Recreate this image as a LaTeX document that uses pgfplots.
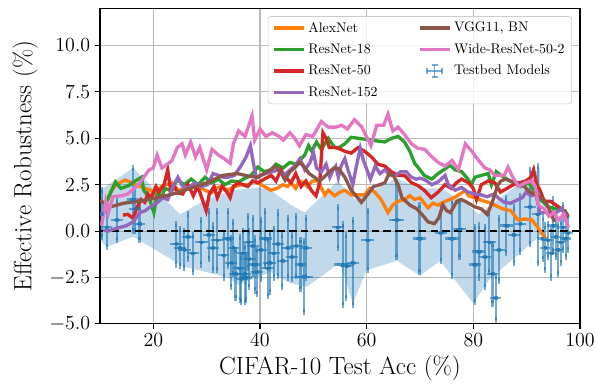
\documentclass[border=0pt]{standalone}
\usepackage{pgfplots}
\usepackage{pgfplotstable}
\pgfplotsset{compat=1.18}
\definecolor{tabblue}{HTML}{1F77B4}
\definecolor{taborange}{HTML}{FF7F0E}
\definecolor{tabgreen}{HTML}{2CA02C}
\definecolor{tabred}{HTML}{D62728}
\definecolor{tabpurple}{HTML}{9467BD}
\definecolor{tabbrown}{HTML}{8C564B}
\definecolor{tabpink}{HTML}{E377C2}

\pgfplotstableread{
x y ex ey
10.3 0.95 0.3 1.25
11.3 0.2 0.4 1.05
13.2 0.6 0.5 1.1
16.2 1.7 0.6 1.7
16.6 1.2 0.5 1.2
17.4 0.4 0.5 0.9
24.3 -0.7 0.6 1.1
25.0 -0.9 0.5 1.0
25.8 -1.0 0.6 1.0
26.5 -0.3 0.5 1.2
27.4 -1.2 0.6 1.0
29.0 -0.6 0.6 1.2
30.4 -0.2 0.5 1.3
31.2 -0.9 0.6 1.2
32.0 -0.5 0.6 1.6
33.2 -1.3 0.5 1.2
34.0 -0.4 0.6 1.5
34.6 -1.7 0.5 1.3
35.0 -0.9 0.5 1.4
35.4 -2.3 0.6 1.3
36.2 -2.0 0.6 1.7
36.5 -2.6 0.5 1.2
36.8 -1.2 0.5 1.2
37.2 -2.3 0.5 1.5
37.4 -2.5 0.6 1.2
37.8 -0.6 0.5 1.4
38.0 -1.5 0.6 1.5
38.7 -0.8 0.5 1.5
39.0 -1.8 0.6 1.4
39.4 -2.2 0.6 1.2
40.2 -1.0 0.5 1.6
41.0 -0.4 0.6 1.5
41.5 -2.0 0.5 1.5
41.8 -1.7 0.6 1.6
42.6 -1.2 0.5 1.3
43.4 -0.7 0.6 1.7
44.2 -1.6 0.5 1.4
45.2 -0.9 0.6 1.6
46.0 -1.4 0.6 1.2
46.8 -0.8 0.6 1.6
47.6 -1.8 0.5 1.3
48.2 -2.45 1.2 1.9
48.6 -0.9 0.6 1.6
54.6 0.2 0.6 1.1
55.5 -1.8 1.0 2.2
56.2 -1.9 0.6 1.7
57.4 -1.7 0.6 2.3
60.2 -0.5 0.6 1.6
65.6 0.6 0.8 2.0
69.9 -0.4 0.7 1.8
73.9 -0.1 0.6 1.5
76.0 -0.4 0.7 2.0
77.4 0.1 0.6 1.5
80.3 -1.8 0.6 2.0
81.0 -1.1 0.6 1.4
82.2 -1.4 0.5 1.6
83.0 -0.6 0.6 1.6
83.6 -2.3 0.5 1.6
84.2 -3.6 0.5 1.2
84.8 -1.0 0.6 1.7
86.2 0.3 0.6 1.5
87.6 -0.2 0.5 1.5
88.8 0.4 0.5 1.5
90.6 1.3 0.5 2.0
92.1 0.9 0.5 2.6
93.0 -0.4 0.4 1.1
93.5 -0.9 0.4 1.2
94.0 -0.5 0.4 0.9
94.6 -1.2 0.4 1.3
95.0 0.3 0.4 1.4
95.5 -0.3 0.4 1.1
95.9 -1.0 0.4 1.3
96.4 -0.6 0.4 1.1
96.8 0.2 0.4 1.2
97.3 -0.4 0.4 1.0
97.8 -0.1 0.4 0.9
}\testbed

\begin{document}
\begin{tikzpicture}
\begin{axis}[
  name=ax,
  width=345.6pt, height=227.2pt, scale only axis,
  xmin=10, xmax=100, ymin=-5, ymax=12,
  xtick={20,40,60,80,100},
  ytick={-5,-2.5,0,2.5,5,7.5,10},
  y tick label style={/pgf/number format/.cd, fixed, fixed zerofill, precision=1, /tikz/.cd},
  tick label style={font=\fontsize{14.8}{17}\selectfont},
  label style={font=\fontsize{18}{21}\selectfont},
  xlabel={CIFAR-10 Test Acc (\%)},
  ylabel={Effective Robustness (\%)},
  xlabel style={at={(axis description cs:0.5,-0.139)}, anchor=center},
  ylabel style={at={(axis description cs:-0.156,0.5)}, anchor=center},
  grid=major,
  major grid style={line width=0.8pt, color=black!27},
  axis line style={line width=0.8pt},
  tick align=outside, major tick length=3.5pt,
  tick style={line width=0.8pt, black},
  xtick pos=left, ytick pos=left,
  legend image code/.code={\draw[#1, line width=2.4pt] (0pt,0pt) -- (21.6pt,0pt);},
  legend style={
    font=\fontsize{10}{12}\selectfont,
    at={(0.983,0.975)}, anchor=north east,
    draw=black!20, rounded corners=2pt,
    fill=white, fill opacity=0.8, text opacity=1,
    /tikz/column 2/.style={column sep=27pt},
    /tikz/row sep=3pt,
  },
  legend columns=2,
  legend cell align=left,
]
% band
\addplot[forget plot, draw=none, fill=tabblue, fill opacity=0.28] coordinates {
(10,2.2) (16.2,3.4) (25,0.9) (30,1.7) (35,2.2) (39.6,2.35) (42,2.2) (45.8,1.4) (48.4,1.0)
(54.6,2.7) (57.8,1.7) (65.7,2.85) (69.6,2.3) (74,2.3) (79,1.4) (81,0.9) (92.5,3.4)
(92.7,-0.2) (83,-2.6) (80,-3.9) (76.2,-2.5) (73.8,-1.6) (70,-2.4) (65.7,-1.6) (60,-2.1)
(57.4,-3.9) (55,-1.7) (48.8,-3.0) (45.6,-2.8) (42,-2.2) (36,-2.9) (34,-2.5) (25.6,-1.9)
(16.2,-0.3) (11.3,-0.85) (10,-0.5)
} -- cycle;
% testbed
\addplot[forget plot, only marks, mark=square*, mark size=1pt, color=tabblue, opacity=0.62,
  error bars/.cd, x dir=both, x explicit, y dir=both, y explicit,
  error bar style={line width=1.5pt, color=tabblue, opacity=0.62},
  error mark options={mark size=2.2pt, line width=1.5pt, color=tabblue}]
  table[x=x, y=y, x error=ex, y error=ey] {\testbed};
% zero line
\addplot[forget plot, black, line width=1.8pt, dash pattern=on 5.5pt off 3pt] coordinates {(10,0) (100,0)};
% AlexNet
\addplot[forget plot, taborange, line width=2.4pt] coordinates {
(11,1.4) (12,2.1) (13,2.5) (14.7,2.75) (16,2.6) (17.5,2.4) (19.5,2.2) (20.4,2.0) (21.5,2.4) (22.4,2.5)
(23.5,2.6) (24.6,2.2) (26.5,2.3) (27.8,2.4) (29,2.3) (30.8,2.05) (31.8,2.3) (32.7,2.4) (34,2.2) (35.3,2.4)
(36.5,2.5) (37.8,2.5) (39,2.7) (39.6,2.6) (40.8,2.4) (42,2.2) (43.2,2.3) (44.3,2.5) (45.2,2.4) (45.8,2.6)
(46.7,2.3) (47.3,2.7) (48.3,2.6) (48.9,2.4) (49.8,2.7) (50.8,2.7) (52.2,1.95) (52.8,2.2) (54,1.9) (55,2.1)
(55.9,2.2) (57.1,1.95) (58.4,1.95) (59.6,1.95) (60.6,2.3) (61.5,2.1) (62.7,1.7) (64,1.0) (64.9,1.4) (65.8,1.6)
(67.1,1.7) (68.1,1.9) (69,1.7) (70,1.8) (70.8,1.5) (71.5,1.25) (72.4,1.5) (73.4,1.4) (74.7,1.6) (76,1.75)
(77,1.9) (78.5,2.2) (79.1,1.9) (80.3,1.8) (81.6,1.65) (82.8,1.55) (84,1.4) (85.5,1.2) (87,1.1) (88.4,0.6)
(89.7,0.65) (91,0.6) (92.2,0.15) (93.5,-0.4)
};
% ResNet-18
\addplot[forget plot, tabgreen, line width=2.4pt] coordinates {
(10.8,1.3) (12.9,2.65) (13.9,2.3) (15.4,2.45) (16.6,2.7) (17.8,2.9) (18.2,2.2) (19.2,1.8) (20.1,1.0) (20.8,2.1)
(21.5,1.8) (22.2,2.3) (23,2.2) (24.6,2.75) (25.8,2.5) (27.1,2.8) (28.4,2.5) (29.7,2.9) (30.9,2.6) (32.2,2.8)
(33.4,2.5) (34.7,2.7) (36,2.65) (37.2,2.85) (38.3,3.0) (39.6,3.45) (40.8,3.2) (42,3.3) (43,3.6) (44.3,3.4)
(45.6,3.7) (46.8,3.6) (48.4,4.1) (49.1,4.6) (49.7,4.3) (50.6,4.8) (51.5,4.4) (52.8,5.0) (54,4.5) (54.6,4.46)
(55.9,4.7) (57.1,5.05) (58.4,5.0) (60.9,4.9) (63.4,4.8) (64.7,5.0) (65.9,5.1) (67.1,4.8) (68.1,4.3) (69,3.65)
(70,3.3) (70.8,3.0) (72.2,2.8) (73.4,3.1) (74.7,3.35) (75.6,3.55) (76.6,3.3) (77.8,3.2) (79,2.8) (79.6,2.5)
(80.3,2.9) (81.5,3.0) (82.8,3.1) (83.4,2.5) (84.3,3.2) (85.2,3.0) (86.3,2.8) (87.5,2.6) (88.9,2.4) (90.4,2.6)
(92.2,1.8) (94,1.3) (95.5,1.2) (97.2,1.1) (97.8,0.75)
};
% ResNet-50
\addplot[forget plot, tabred, line width=2.4pt] coordinates {
(14.3,0.86) (15.2,0.9) (16.2,0.7) (17,1.3) (17.7,1.7) (18.4,1.55) (19,2.0) (19.6,1.8) (20.5,2.4) (21.1,2.1)
(22,2.5) (22.7,3.3) (23.3,2.1) (24,2.4) (24.6,2.05) (25.5,2.0) (26.5,2.5) (27.5,1.9) (28.1,2.3) (28.6,2.2)
(29.9,1.1) (30.5,2.0) (31.4,2.4) (32,1.8) (32.9,2.4) (33.8,2.1) (34.4,1.8) (35,2.4) (35.9,2.6) (36.8,2.5)
(37.7,2.4) (38.6,2.7) (39.6,2.6) (40.8,2.8) (42.1,3.0) (43,2.7) (43.9,3.3) (44.8,2.9) (45.8,2.6) (46.7,3.1)
(47.7,2.4) (48.6,2.7) (49.6,2.2) (50.5,1.9) (51.2,2.6) (51.8,5.3) (52.4,5.0) (53,4.5) (54.4,4.5) (55.9,4.3)
(57.1,4.2) (58.4,4.5) (59.6,4.3) (60.9,4.0) (62.1,3.6) (63.4,3.5) (64.6,3.2) (65.9,3.0) (67.1,3.0) (68.4,2.6)
(69.6,2.45) (70.8,2.2) (72.1,1.8) (73.4,2.1) (74.7,2.5) (75.9,2.3) (76.8,2.6) (77.8,2.8) (79.1,2.6) (80,2.3)
(80.6,1.7) (81.5,2.5) (82.8,2.7) (84,2.6) (85.1,2.1) (86.3,2.3) (87.5,2.5) (88.6,2.6) (89.9,2.7) (90.8,2.9)
(91.3,3.3) (91.9,2.5) (92.5,2.2) (93.3,1.6) (94.5,1.6) (95.5,1.4) (96.5,1.2) (97.2,1.0) (97.8,0.8)
};
% ResNet-152
\addplot[forget plot, tabpurple, line width=2.4pt] coordinates {
(10.6,0.05) (11.5,0.0) (12.5,0.1) (13.8,0.2) (15,0.3) (16.2,0.5) (17.5,1.0) (18.5,1.1) (19.4,1.3) (20.6,1.5)
(21.8,1.8) (22.7,1.7) (23.7,2.4) (24.6,2.9) (25.5,2.4) (26.5,2.3) (27.8,2.6) (29,2.4) (30.2,2.5) (31.2,3.1)
(32.2,3.0) (33.1,2.9) (34,2.9) (35.2,3.0) (36.4,3.5) (37.4,4.0) (38.2,4.6) (38.8,3.6) (39.3,2.85) (40,3.0)
(41.1,3.1) (42.3,3.2) (43.5,3.3) (44.4,3.0) (45.3,3.2) (46.5,3.5) (47.5,3.9) (48.4,3.3) (49.4,3.7) (50,4.25)
(50.6,3.4) (51.5,3.2) (52.4,3.6) (53.1,2.9) (53.7,3.3) (54.2,3.5) (54.7,2.9) (55.2,3.5) (55.9,3.9) (56.5,3.3)
(57.4,2.5) (58,3.4) (58.8,4.46) (59.4,3.8) (60.7,2.8) (61.6,3.5) (62.5,3.1) (63.4,3.3) (64.4,3.0) (65.4,3.0)
(66.4,3.2) (67.4,3.2) (68.4,2.9) (69.3,2.8) (70,2.85) (71,2.75) (72.2,2.5) (73.4,2.65) (74.7,3.0) (75.3,2.5)
(76.6,2.2) (77.8,2.35) (79,2.1) (80.3,2.0) (81.5,1.95) (82.6,1.85) (83.9,2.0) (84.6,1.8) (85.8,1.55) (87,1.5)
(88.4,1.7) (89.2,1.8) (89.9,2.1) (90.8,1.9) (91.7,2.0) (92.5,1.0) (93.5,1.0) (94.8,0.9) (95.6,1.0) (96.5,1.2)
(97.5,0.8)
};
% VGG11 BN
\addplot[forget plot, tabbrown, line width=2.4pt] coordinates {
(10,1.66) (11.9,1.3) (14.4,1.5) (17,1.6) (19,1.7) (20.7,1.8) (23.7,2.0) (26.9,2.3) (30,2.6) (33,3.0)
(35.7,3.1) (38,2.95) (39.6,2.9) (40.8,3.1) (42,3.3) (42.9,3.5) (43.8,3.2) (44.7,2.75) (45.6,3.2) (46.5,3.4)
(47.4,3.7) (48.2,3.5) (49.2,3.1) (50.2,2.9) (51.1,2.7) (52,2.9) (53,3.2) (53.9,3.4) (54.8,3.35) (55.9,2.9)
(57.1,2.2) (58,1.9) (59,1.55) (60,1.9) (61.3,2.4) (62.5,2.5) (63.4,2.6) (64.2,3.1) (65,3.0) (65.9,2.5)
(66.6,1.8) (68.1,1.4) (69.4,1.2) (70.5,0.85) (71.5,0.5) (72.7,0.4) (73.5,0.7) (74.3,1.4) (75,1.1) (75.7,1.0)
(76.9,1.6) (77.7,1.7) (78.5,1.6) (80.3,1.3) (81.5,1.2) (82.6,0.9) (83.5,1.5) (84.6,2.5) (85.2,2.7) (86,2.8)
(87,2.7) (88.4,2.6) (89.4,2.45) (90.6,2.1) (92.2,1.9) (93.5,1.6) (94.5,1.0) (95.2,0.5)
};
% Wide-ResNet-50-2
\addplot[forget plot, tabpink, line width=2.4pt] coordinates {
(10.3,0.3) (11.1,1.6) (11.6,1.0) (12.4,1.85) (14,1.9) (15.2,2.0) (16.4,2.3) (17.2,2.47) (18.2,2.9) (19.2,3.3)
(20,3.4) (20.7,4.1) (21.6,3.4) (22.6,3.6) (23.5,3.8) (24.5,4.5) (25.4,4.7) (26,4.1) (27,4.8) (27.9,4.0)
(28.7,4.5) (30,3.3) (31,4.4) (32.2,4.1) (33.3,3.9) (34.4,3.65) (35,4.7) (36,5.4) (37.2,5.1) (38.5,6.2)
(39,4.9) (40,5.5) (41.1,5.1) (42.3,5.3) (43.6,5.1) (44.4,4.9) (45.6,5.3) (46.5,5.0) (47.4,4.6) (48.6,5.2)
(49.9,5.1) (51.5,5.9) (52.8,5.6) (54.2,5.6) (55.3,5.7) (56.4,5.5) (57.7,6.0) (59.1,5.6) (60.8,4.6) (61.9,5.7)
(63.2,5.7) (64,6.3) (64.9,5.4) (65.9,5.6) (67.1,5.2) (68.4,4.7) (69.6,4.46) (70.9,4.4) (72.2,4.0) (73.4,3.7)
(74.7,3.5) (76,3.8) (77.2,3.3) (78.5,4.7) (79.7,4.3) (81,3.8) (82.2,3.4) (83.1,3.3) (84,3.0) (85.8,3.0)
(86.5,3.44) (87.4,2.9) (88.5,2.4) (89.7,2.6) (91,2.7) (91.6,2.4) (92.2,1.4) (93.3,1.2) (94.2,0.8) (95.1,1.0)
(96,0.6) (96.9,0.9) (97.8,0.2)
};
% legend (row-wise order for two columns)
\addlegendimage{taborange}\addlegendentry{AlexNet}
\addlegendimage{tabbrown}\addlegendentry{VGG11, BN}
\addlegendimage{tabgreen}\addlegendentry{ResNet-18}
\addlegendimage{tabpink}\addlegendentry{Wide-ResNet-50-2}
\addlegendimage{tabred}\addlegendentry{ResNet-50}
\addlegendimage{legend image code/.code={
  \draw[tabblue, opacity=0.6, line width=1.3pt] (5.4pt,0pt) -- (16.2pt,0pt);
  \draw[tabblue, opacity=0.6, line width=1.3pt] (10.8pt,-4.5pt) -- (10.8pt,4.5pt);
  \draw[tabblue, opacity=0.6, line width=1.3pt] (5.4pt,-2.2pt) -- (5.4pt,2.2pt);
  \draw[tabblue, opacity=0.6, line width=1.3pt] (16.2pt,-2.2pt) -- (16.2pt,2.2pt);
  \draw[tabblue, opacity=0.6, line width=1.3pt] (8.6pt,-4.5pt) -- (13pt,-4.5pt);
  \draw[tabblue, opacity=0.6, line width=1.3pt] (8.6pt,4.5pt) -- (13pt,4.5pt);
}}\addlegendentry{Testbed Models}
\addlegendimage{tabpurple}\addlegendentry{ResNet-152}
\end{axis}
\pgfresetboundingbox
\path[use as bounding box] ([shift={(-72pt,-42.84pt)}]ax.south west) rectangle ([shift={(10.8pt,6pt)}]ax.north east);
\end{tikzpicture}
\end{document}
